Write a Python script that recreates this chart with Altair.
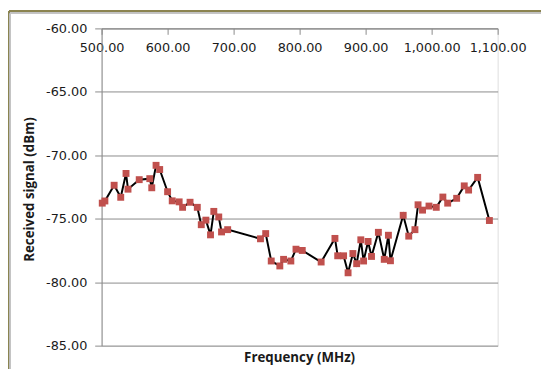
import altair as alt
import pandas as pd

# Frequency (MHz) and received signal (dBm)
freq = [501, 505, 519, 529, 537, 540, 557, 573, 576, 582.5, 588, 600, 607, 617.5,
        622.7, 634, 645, 651, 658, 665, 670, 677.5, 681.7, 691, 740.7, 748.6, 757,
        770, 775.7, 786.7, 794.5, 804, 832.6, 853.5, 857.7, 866.6, 873.4, 880.7,
        886.4, 892.7, 896.9, 903.7, 908.9, 919.3, 928.2, 934.5, 937.6, 956.9, 965.3,
        974.7, 979.4, 986.2, 996, 1007, 1017, 1024.3, 1037.9, 1049.4, 1056, 1069.7,
        1087.5]
signal = [-73.77, -73.6, -72.36, -73.31, -71.43, -72.67, -71.92, -71.84, -72.56,
          -70.79, -71.12, -72.87, -73.59, -73.67, -74.1, -73.7, -74.1, -75.47,
          -75.11, -76.27, -74.42, -74.86, -76.04, -75.86, -76.58, -76.17, -78.33,
          -78.72, -78.2, -78.33, -77.4, -77.5, -78.41, -76.55, -77.92, -77.92,
          -79.26, -77.74, -78.54, -76.66, -78.33, -76.79, -77.97, -76.07, -78.2,
          -76.3, -78.31, -74.73, -76.37, -75.86, -73.9, -74.32, -74.0, -74.1,
          -73.29, -73.77, -73.39, -72.41, -72.74, -71.74, -75.14]

x_ticks = [500, 600, 700, 800, 900, 1000, 1100]
y_ticks = [-85, -80, -75, -70, -65, -60]
x_title = "Frequency (MHz)"
y_title = "Received signal (dBm)"

df = pd.DataFrame({"freq": freq, "signal": signal})

W, H = 402, 322
PAD_L, PAD_T = 95, 18
AXIS_GREY = "#8a8a8a"
TEXT = "#1a1a1a"

x_enc = alt.X("freq:Q",
              scale=alt.Scale(domain=[500, 1100], nice=False, zero=False),
              axis=alt.Axis(orient="bottom", offset=-H, values=x_ticks, format=",.2f",
                            title=None, grid=False, tickSize=6, labelPadding=7,
                            labelOverlap=False, labelFlush=False,
                            domainColor=AXIS_GREY, tickColor=AXIS_GREY,
                            labelFont="DejaVu Sans", labelFontSize=13,
                            labelColor=TEXT, labelBaseline="top"))
y_enc = alt.Y("signal:Q",
              scale=alt.Scale(domain=[-85, -60], nice=False, zero=False),
              axis=alt.Axis(values=y_ticks, format=".2f", title=y_title,
                            labelExpr="replace(format(datum.value, '.2f'), '\u2212', '-')",
                            grid=True, gridColor=AXIS_GREY, gridWidth=1,
                            tickSize=7, labelPadding=8, labelOverlap=False,
                            labelFlush=False,
                            domainColor=AXIS_GREY, tickColor=AXIS_GREY,
                            labelFont="DejaVu Sans", labelFontSize=13,
                            labelColor=TEXT,
                            titleFont="Open Sans", titleFontSize=13.5,
                            titleFontWeight="bold", titleColor=TEXT,
                            titleX=-73, titleY=H / 2 + 2, titleAlign="center",
                            titleBaseline="middle", titleAngle=-90))

base = alt.Chart(df)
line = base.mark_line(color="black", strokeWidth=2).encode(x=x_enc, y=y_enc)
pts = base.mark_point(shape="square", filled=True, size=49, color="#c0504d",
                      opacity=1).encode(x="freq:Q", y="signal:Q")

xtitle = alt.Chart(pd.DataFrame({"t": [x_title]})).mark_text(
    font="Open Sans", fontSize=13.5, fontWeight="bold", color=TEXT,
    align="center", baseline="middle").encode(
    text="t:N", x=alt.value(W / 2), y=alt.value(H + 13))

frame_color = "#8a8450"
frame_top = alt.Chart(df).mark_rule(color=frame_color, strokeWidth=2).encode(
    x=alt.value(-94), x2=alt.value(460), y=alt.value(-17))
frame_left = alt.Chart(df).mark_rule(color=frame_color, strokeWidth=2).encode(
    x=alt.value(-94), y=alt.value(-17), y2=alt.value(360))
inner_top = alt.Chart(df).mark_rule(color="#c4c4c4", strokeWidth=1).encode(
    x=alt.value(-92.5), x2=alt.value(460), y=alt.value(-15.5))
inner_left = alt.Chart(df).mark_rule(color="#c4c4c4", strokeWidth=1).encode(
    x=alt.value(-92.5), y=alt.value(-15.5), y2=alt.value(360))

chart = alt.layer(frame_top, frame_left, inner_top, inner_left, line, pts,
                  xtitle).properties(
    width=W, height=H,
    autosize=alt.AutoSizeParams(type="none"),
    padding={"left": PAD_L, "top": PAD_T, "right": 541 - PAD_L - W,
             "bottom": 361 - PAD_T - H},
).configure_view(stroke=None).configure(background="white")

chart.save("out.html", embed_options={"renderer": "svg", "actions": False})
